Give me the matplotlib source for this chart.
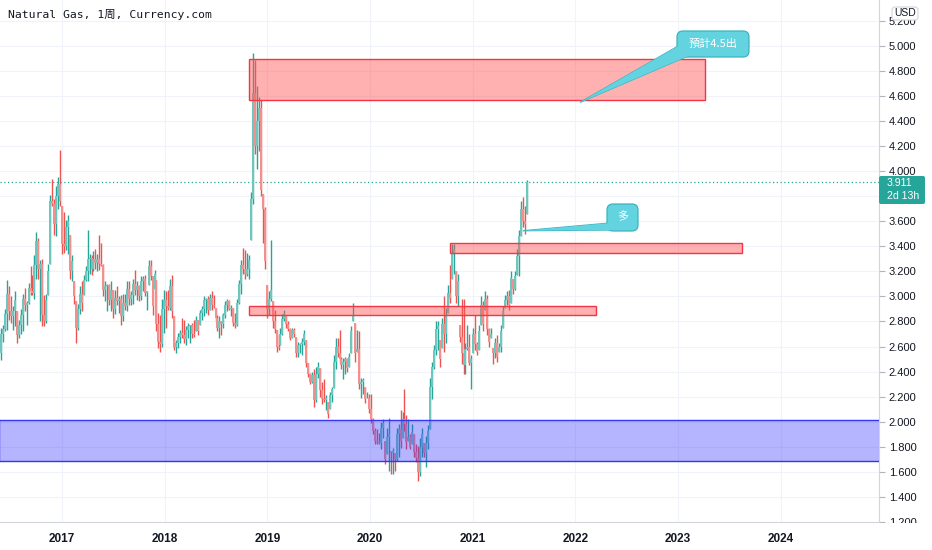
import matplotlib
matplotlib.use("Agg")
import matplotlib.pyplot as plt
import matplotlib.dates as mdates
from matplotlib.patches import Rectangle, FancyBboxPatch, Polygon
from matplotlib.transforms import IdentityTransform
import numpy as np
import pandas as pd

# ---------------- data ----------------
symbol_title = "Natural Gas, 1周, Currency.com"
start_date = "2016-05-29"
first_open = 2.55

highs = [
    2.75, 2.77, 2.90, 3.13, 3.08, 3.00, 2.92, 3.04, 2.88, 2.81,
    2.90, 3.02, 3.07, 2.96, 3.11, 3.24, 3.17, 3.33, 3.51, 3.47,
    3.29, 3.30, 3.01, 3.02, 3.26, 3.81, 3.94, 3.78, 3.88, 3.95,
    4.17, 3.72, 3.67, 3.61, 3.65, 3.49, 3.33, 3.12, 2.96, 2.94,
    3.08, 3.12, 3.17, 3.24, 3.53, 3.34, 3.33, 3.36, 3.38, 3.34,
    3.49, 3.43, 3.26, 3.12, 3.10, 3.10, 3.12, 3.05, 3.05, 3.08,
    3.00, 3.01, 3.02, 3.02, 3.12, 3.12, 3.04, 3.14, 3.21, 3.12,
    3.09, 3.16, 3.16, 3.17, 3.04, 3.29, 3.29, 3.16, 3.21, 3.13,
    2.87, 2.85, 2.98, 3.05, 3.04, 3.05, 3.14, 3.17, 2.84, 2.65,
    2.71, 2.73, 2.83, 2.81, 2.76, 2.79, 2.77, 2.79, 2.81, 2.84,
    2.81, 2.89, 2.92, 3.00, 2.99, 3.00, 3.02, 3.04, 3.01, 2.91,
    2.85, 2.84, 2.80, 2.87, 2.96, 2.98, 2.97, 2.93, 2.91, 2.87,
    2.98, 3.13, 3.29, 3.39, 3.37, 3.35, 3.33, 3.83, 4.94, 4.89,
    4.68, 4.59, 4.57, 3.82, 3.71, 3.09, 3.04, 3.45, 2.96, 2.89,
    2.73, 2.69, 2.75, 2.86, 2.89, 2.84, 2.80, 2.75, 2.75, 2.75,
    2.68, 2.64, 2.63, 2.67, 2.73, 2.65, 2.47, 2.39, 2.40, 2.42,
    2.44, 2.48, 2.43, 2.32, 2.34, 2.21, 2.16, 2.24, 2.28, 2.53,
    2.67, 2.67, 2.73, 2.52, 2.51, 2.52, 2.51, 2.55, 2.76, 2.95,
    2.79, 2.73, 2.72, 2.35, 2.35, 2.28, 2.24, 2.22, 2.22, 2.03,
    1.95, 1.94, 1.91, 2.00, 2.02, 1.85, 1.95, 2.03, 1.77, 1.79,
    1.75, 1.95, 1.98, 2.09, 2.08, 2.26, 2.05, 2.02, 1.90, 1.98,
    1.90, 1.82, 1.81, 1.87, 1.95, 1.83, 1.89, 1.97, 2.35, 2.48,
    2.61, 2.80, 2.80, 2.65, 2.83, 3.00, 2.91, 3.09, 3.25, 3.42,
    3.42, 3.20, 3.18, 2.77, 2.98, 2.98, 2.63, 2.77, 2.70, 2.53,
    2.75, 2.85, 2.64, 2.77, 3.00, 2.96, 3.04, 3.01, 2.75, 2.75,
    2.59, 2.67, 2.69, 2.63, 2.77, 2.92, 3.01, 3.04, 3.05, 3.20,
    3.14, 3.20, 3.38, 3.53, 3.76, 3.79, 3.72, 3.93,
]
lows = [
    2.49, 2.64, 2.72, 2.73, 2.81, 2.79, 2.73, 2.76, 2.63, 2.67,
    2.70, 2.72, 2.88, 2.77, 2.94, 3.01, 3.01, 2.98, 3.14, 3.14,
    2.80, 2.76, 2.76, 2.79, 3.01, 3.26, 3.72, 3.49, 3.48, 3.70,
    3.72, 3.34, 3.35, 3.37, 3.34, 3.14, 3.12, 2.94, 2.63, 2.73,
    2.86, 2.88, 3.01, 3.12, 3.12, 3.18, 3.17, 3.20, 3.22, 3.20,
    3.21, 3.24, 3.00, 2.96, 2.88, 2.93, 2.88, 2.83, 2.86, 2.93,
    2.87, 2.77, 2.80, 2.89, 2.88, 2.93, 2.93, 2.94, 3.01, 2.97,
    2.96, 2.97, 3.04, 3.00, 2.89, 3.09, 3.13, 2.85, 3.06, 2.72,
    2.59, 2.56, 2.60, 2.71, 2.75, 2.89, 2.89, 2.83, 2.57, 2.55,
    2.59, 2.63, 2.67, 2.63, 2.61, 2.67, 2.63, 2.67, 2.68, 2.72,
    2.69, 2.77, 2.81, 2.84, 2.87, 2.85, 2.89, 2.89, 2.91, 2.80,
    2.72, 2.67, 2.69, 2.75, 2.83, 2.88, 2.89, 2.84, 2.76, 2.75,
    2.76, 2.94, 3.02, 3.18, 3.14, 3.16, 3.14, 3.45, 3.74, 4.14,
    4.02, 4.16, 3.80, 3.43, 3.22, 2.83, 2.85, 2.96, 2.75, 2.71,
    2.56, 2.57, 2.61, 2.69, 2.80, 2.75, 2.72, 2.65, 2.67, 2.68,
    2.52, 2.52, 2.55, 2.53, 2.61, 2.44, 2.36, 2.30, 2.31, 2.12,
    2.16, 2.35, 2.20, 2.14, 2.16, 2.09, 2.03, 2.10, 2.16, 2.27,
    2.42, 2.52, 2.48, 2.42, 2.34, 2.38, 2.40, 2.44, 2.55, 2.80,
    2.48, 2.56, 2.26, 2.19, 2.22, 2.15, 2.19, 2.07, 1.99, 1.90,
    1.82, 1.82, 1.82, 1.78, 1.87, 1.66, 1.74, 1.61, 1.58, 1.58,
    1.61, 1.69, 1.72, 1.79, 1.87, 1.93, 1.78, 1.85, 1.78, 1.82,
    1.72, 1.68, 1.53, 1.57, 1.72, 1.72, 1.64, 1.78, 1.94, 2.18,
    2.42, 2.53, 2.57, 2.44, 2.59, 2.56, 2.63, 2.87, 2.95, 3.14,
    3.18, 2.95, 2.92, 2.64, 2.46, 2.38, 2.38, 2.57, 2.45, 2.26,
    2.55, 2.57, 2.53, 2.57, 2.77, 2.72, 2.89, 2.69, 2.60, 2.67,
    2.46, 2.51, 2.48, 2.56, 2.56, 2.75, 2.91, 2.93, 2.89, 2.95,
    3.02, 3.05, 3.17, 3.16, 3.48, 3.55, 3.50, 3.66,
]
closes = [
    2.70, 2.74, 2.86, 3.02, 2.88, 2.84, 2.88, 2.97, 2.69, 2.77,
    2.85, 2.98, 2.93, 2.95, 3.07, 3.04, 3.03, 3.25, 3.44, 3.22,
    3.26, 2.85, 2.80, 2.97, 3.20, 3.76, 3.74, 3.58, 3.80, 3.90,
    3.76, 3.42, 3.40, 3.55, 3.60, 3.20, 3.28, 3.00, 2.75, 2.90,
    3.02, 2.95, 3.13, 3.20, 3.30, 3.31, 3.22, 3.30, 3.27, 3.30,
    3.26, 3.25, 3.05, 3.08, 3.09, 2.97, 3.05, 2.90, 2.99, 2.96,
    2.98, 2.84, 2.95, 2.92, 3.06, 2.98, 3.01, 3.10, 3.05, 3.08,
    3.00, 3.12, 3.14, 3.03, 3.04, 3.24, 3.16, 2.92, 3.18, 2.78,
    2.64, 2.62, 2.90, 2.97, 2.92, 2.91, 3.08, 2.88, 2.60, 2.63,
    2.68, 2.71, 2.69, 2.66, 2.73, 2.76, 2.77, 2.70, 2.69, 2.81,
    2.72, 2.87, 2.90, 2.97, 2.98, 2.89, 2.99, 2.93, 2.92, 2.83,
    2.75, 2.80, 2.78, 2.85, 2.93, 2.96, 2.90, 2.91, 2.79, 2.77,
    2.95, 3.10, 3.25, 3.22, 3.18, 3.22, 3.29, 3.78, 4.62, 4.20,
    4.40, 4.50, 3.85, 3.70, 3.28, 2.90, 2.98, 3.05, 2.80, 2.74,
    2.60, 2.59, 2.70, 2.82, 2.86, 2.78, 2.74, 2.67, 2.73, 2.70,
    2.55, 2.61, 2.62, 2.64, 2.70, 2.47, 2.38, 2.32, 2.37, 2.17,
    2.38, 2.44, 2.25, 2.18, 2.17, 2.19, 2.06, 2.21, 2.26, 2.48,
    2.60, 2.55, 2.50, 2.45, 2.48, 2.50, 2.43, 2.52, 2.72, 2.84,
    2.55, 2.58, 2.30, 2.32, 2.33, 2.18, 2.19, 2.10, 2.02, 1.93,
    1.85, 1.84, 1.83, 1.95, 1.99, 1.70, 1.88, 1.90, 1.75, 1.77,
    1.70, 1.90, 1.94, 1.85, 2.02, 1.98, 1.84, 1.88, 1.80, 1.92,
    1.76, 1.71, 1.60, 1.80, 1.90, 1.75, 1.83, 1.93, 2.28, 2.44,
    2.57, 2.74, 2.76, 2.50, 2.78, 2.70, 2.85, 3.03, 2.99, 3.35,
    3.38, 3.00, 3.12, 2.68, 2.55, 2.45, 2.58, 2.60, 2.47, 2.50,
    2.70, 2.62, 2.56, 2.72, 2.93, 2.78, 2.98, 2.74, 2.64, 2.70,
    2.55, 2.63, 2.52, 2.60, 2.72, 2.88, 2.97, 3.00, 2.93, 3.15,
    3.06, 3.16, 3.32, 3.48, 3.70, 3.60, 3.58, 3.911,
]
last_price = 3.911
countdown = "2d 13h"

year_labels = ["2017", "2018", "2019", "2020", "2021", "2022", "2023", "2024"]
price_ticks = [1.2, 1.4, 1.6, 1.8, 2.0, 2.2, 2.4, 2.6, 2.8, 3.0,
               3.2, 3.4, 3.6, 3.8, 4.0, 4.2, 4.4, 4.6, 4.8, 5.0, 5.2]
# price-scale labels hidden behind the last-price tag in the reference
hidden_price_labels = [3.8]

# red zones drawn on the chart
zone_starts = ["2018-10-28", "2020-10-12", "2018-10-28"]
zone_ends = ["2023-04-07", "2023-08-16", "2022-03-15"]
zone_lows = [4.571, 3.350, 2.855]
zone_highs = [4.897, 3.430, 2.925]
# blue support zone (full width)
support_low, support_high = 1.690, 2.015

callout_texts = ["預計4.5出", "多"]
callout_tip_dates = ["2022-01-17", "2021-06-28"]
callout_tip_prices = [4.548, 3.524]

# ---------------- figure ----------------
W, H = 932, 550
fig = plt.figure(figsize=(W / 100, H / 100), dpi=100)
fig.patch.set_facecolor("white")
ax = fig.add_axes([0, 1 - 522 / H, 879 / W, 522 / H])
PX = IdentityTransform()

GREEN = "#26a69a"
RED = "#ef5350"
GREEN_BODY = "#6ec6bd"
RED_BODY = "#f38f8d"
TXT = "#131722"

dates = pd.date_range(start_date, periods=len(closes), freq="7D")
xs = mdates.date2num(dates.to_pydatetime())
hi = np.array(highs)
lo = np.array(lows)
cl = np.array(closes)
op = np.clip(np.concatenate([[first_open], cl[:-1]]), lo, hi)
up = cl >= op
wick_colors = [GREEN if u else RED for u in up]
body_colors = [GREEN_BODY if u else RED_BODY for u in up]
ax.vlines(xs, lo, hi, colors=wick_colors, lw=1.0, zorder=3)
ax.vlines(xs, np.minimum(op, cl), np.maximum(op, cl), colors=body_colors,
          lw=1.45, zorder=4)

# price line
ax.axhline(last_price, color=GREEN, lw=0.9, ls=(0, (1, 2)), zorder=2)

# zones
for s, e, l, h in zip(zone_starts, zone_ends, zone_lows, zone_highs):
    x0 = mdates.date2num(pd.Timestamp(s))
    x1 = mdates.date2num(pd.Timestamp(e))
    ax.add_patch(Rectangle((x0, l), x1 - x0, h - l, facecolor=(1.0, 0.32, 0.32, 0.45),
                           edgecolor="#f23645", lw=1.0, zorder=5))

ref0 = mdates.date2num(pd.Timestamp("2017-01-01"))
x_left = ref0 - 220.5
x_right = ref0 + 2905.6
ax.add_patch(Rectangle((x_left - 5, support_low), (x_right - x_left) + 10,
                       support_high - support_low,
                       facecolor=(0.2, 0.2, 1.0, 0.36), edgecolor="#3535f0",
                       lw=1.0, zorder=5))

ax.set_xlim(x_left, x_right)
ax.set_ylim(1.222, 5.365)

# axes styling
ax.set_axisbelow(True)
ax.grid(True, color="#f0f3fa", lw=0.8, zorder=0)
for sp in ["top", "left"]:
    ax.spines[sp].set_visible(False)
for sp in ["right", "bottom"]:
    ax.spines[sp].set_color("#d1d4dc")
    ax.spines[sp].set_linewidth(0.8)

ax.yaxis.tick_right()
ax.set_yticks(price_ticks)
ax.set_yticklabels(["" if any(abs(t - h) < 1e-9 for h in hidden_price_labels)
                    else f"{t:.3f}" for t in price_ticks])
ax.tick_params(axis="y", length=4, width=0.8, color="#b2b5be", pad=3,
               labelsize=8, labelcolor=TXT)
for lab in ax.get_yticklabels():
    lab.set_fontfamily("Liberation Sans")

year_pos = [mdates.date2num(pd.Timestamp(f"{y}-01-01")) for y in year_labels]
ax.set_xticks(year_pos)
ax.set_xticklabels(year_labels)
ax.tick_params(axis="x", length=0, pad=8, labelsize=8.5, labelcolor=TXT)
for lab in ax.get_xticklabels():
    lab.set_fontfamily("Liberation Sans")
    lab.set_fontweight("bold")

# cover lower half of lowest price label (time-scale area)
fig.add_artist(Rectangle((880, 0), 52, H - 523, transform=PX, facecolor="white",
                         edgecolor="none", zorder=20))

# title
fig.text(8, H - 15, symbol_title, transform=PX, fontsize=8.2, va="center", ha="left",
         color=TXT, family=["DejaVu Sans Mono", "Noto Sans CJK SC"])

# USD box
fig.add_artist(FancyBboxPatch((892, H - 20), 26, 13, boxstyle="round,pad=0,rounding_size=3",
                              transform=PX, facecolor="white", edgecolor="#d1d4dc",
                              lw=0.8, zorder=21))
fig.text(905, H - 13.5, "USD", transform=PX, fontsize=7.5, ha="center", va="center",
         color=TXT, family="Liberation Sans", zorder=22)

# last price tag
fig.add_artist(FancyBboxPatch((879, H - 204), 46, 28, boxstyle="round,pad=0,rounding_size=2",
                              transform=PX, facecolor=GREEN, edgecolor="none", zorder=21))
fig.text(887, H - 183, f"{last_price:.3f}", transform=PX, fontsize=7.6, ha="left",
         va="center", color="white", family="Liberation Sans", zorder=22)
fig.text(887, H - 196, countdown, transform=PX, fontsize=7.6, ha="left",
         va="center", color="white", family="Liberation Sans", zorder=22)

# callouts
CYAN = "#62d3df"
CYAN_EDGE = "#3db4c0"
boxes_px = [(677, 31, 749, 57), (607, 204, 638, 231)]
bases_px = [[(680, 45), (688, 56)], [(610, 223), (610, 230)]]
for text, bpx, base, td, tp in zip(callout_texts, boxes_px, bases_px,
                                   callout_tip_dates, callout_tip_prices):
    tip = ax.transData.transform((mdates.date2num(pd.Timestamp(td)), tp))
    pts = [(base[0][0], H - base[0][1]), (base[1][0], H - base[1][1]), (tip[0], tip[1])]
    fig.add_artist(Polygon(pts, closed=True, facecolor=CYAN, edgecolor=CYAN_EDGE,
                           lw=0.9, transform=PX, zorder=10))
    x0, y0, x1, y1 = bpx
    fig.add_artist(FancyBboxPatch((x0, H - y1), x1 - x0, y1 - y0,
                                  boxstyle="round,pad=0,rounding_size=6",
                                  facecolor=CYAN, edgecolor=CYAN_EDGE, lw=0.9,
                                  transform=PX, zorder=11))
    fig.add_artist(Polygon(pts, closed=True, facecolor=CYAN, edgecolor="none",
                           transform=PX, zorder=12))
    fig.text((x0 + x1) / 2, H - (y0 + y1) / 2, text, transform=PX, fontsize=8,
             ha="center", va="center", color="white",
             family=["Noto Sans CJK TC", "DejaVu Sans"], zorder=13)

fig.savefig("out.png", dpi=100)
